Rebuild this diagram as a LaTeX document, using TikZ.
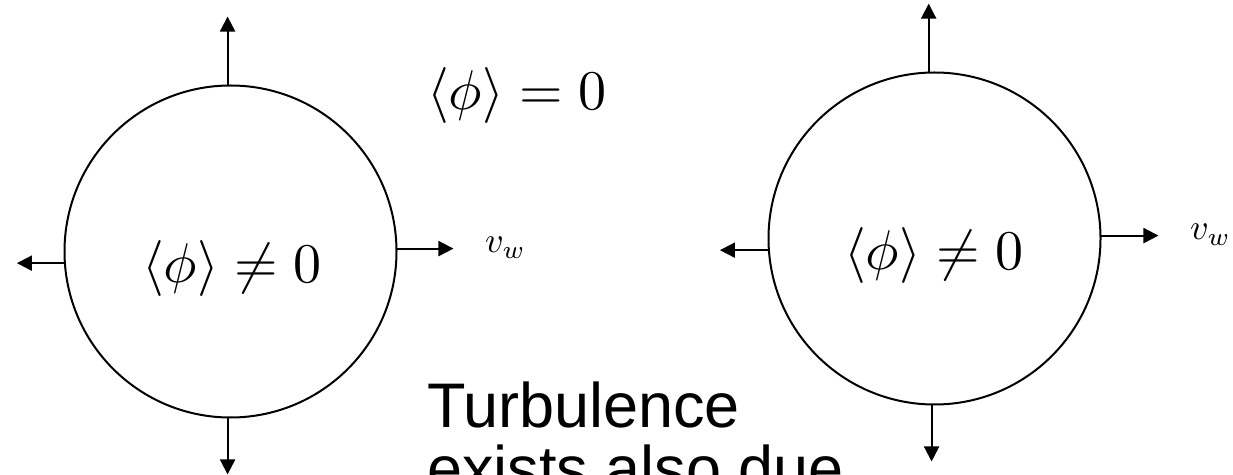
\RequirePackage{fix-cm}
\documentclass[tikz,border=0pt]{standalone}
\usepackage{graphicx}
\usepackage{fontspec}
\newfontfamily\arialfont{Liberation Sans}
\usetikzlibrary{positioning, arrows.meta}

\begin{document}
\begin{tikzpicture}[
    x=1pt, y=1pt,
    bubble/.style={draw, circle, line width=2pt,
                   minimum size=332pt, inner sep=0pt},
    arr/.style={-{Triangle[length=15pt, width=15pt]}, line width=2pt},
    vev/.style={inner sep=0pt, anchor=base},
    vel/.style={inner sep=0pt, anchor=base west}
  ]
  \useasboundingbox (0,0) rectangle (1233,474);

  % --- Bubbles ---
  \node[bubble] (bubL) at (230.5,222.5) {};
  \node[bubble] (bubR) at (934.5,235.5) {};

  % --- Arrow tips, left bubble ---
  \coordinate[above=68pt of bubL.91.7] (upL);
  \coordinate[below=56pt of bubL.269.7] (dnL);
  \coordinate[left=47pt of bubL.184.8] (ltL);
  \coordinate[right=56pt of bubL.1.7] (rtL);

  % --- Arrow tips, right bubble ---
  \coordinate[above=68pt of bubR.92.2] (upR);
  \coordinate[below=56pt of bubR.269.1] (dnR);
  \coordinate[left=48pt of bubR.184.7] (ltR);
  \coordinate[right=57pt of bubR.1.6] (rtR);

  % --- Arrows ---
  \draw[arr] (bubL.91.7) -- (upL);
  \draw[arr] (bubL.269.7) -- (dnL);
  \draw[arr] (bubL.184.8) -- (ltL);
  \draw[arr] (bubL.1.7) -- (rtL);

  \draw[arr] (bubR.92.2) -- (upR);
  \draw[arr] (bubR.269.1) -- (dnR);
  \draw[arr] (bubR.184.7) -- (ltR);
  \draw[arr] (bubR.1.6) -- (rtR);

  % --- Labels ---
  \node[vev] (vevOut) at (517,364) {\scalebox{5.6}{$\langle\phi\rangle = 0$}};
  \node[vev] (vevL) at (232,191) {\scalebox{5.6}{$\langle\phi\rangle \neq 0$}};
  \node[vev] (vevR) at (934,204) {\scalebox{5.6}{$\langle\phi\rangle \neq 0$}};
  \node[vel] (vwL) at (485,221) {\scalebox{3.6}{$v_w$}};
  \node[vel] (vwR) at (1190,234) {\scalebox{3.6}{$v_w$}};

  % cut off by the bottom edge
  \node[font=\arialfont\fontsize{63}{63}\selectfont, align=left,
        anchor=base west, inner sep=0pt] (turb) at (427,-16)
        {Turbulence\\exists also due};

\end{tikzpicture}
\end{document}
